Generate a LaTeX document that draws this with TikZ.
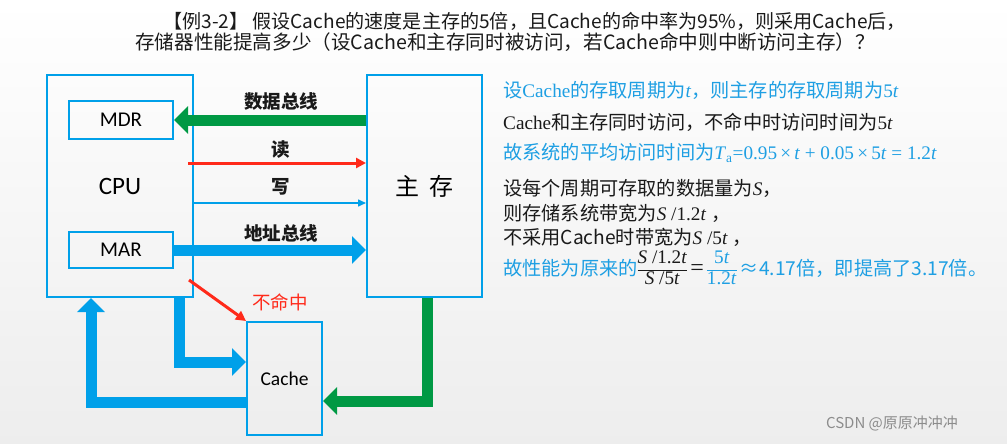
\documentclass[tikz,border=0pt]{standalone}
\usepackage{fontspec}
\setmainfont{Liberation Serif}
\newfontfamily\cjk{Noto Sans CJK SC}
\newfontfamily\carl{Carlito}
\usetikzlibrary{arrows.meta}
\definecolor{cblue}{HTML}{00A0E9}
\definecolor{cgreen}{HTML}{009944}
\definecolor{cred}{HTML}{FF2A1A}
\definecolor{tblue}{HTML}{1E9FE3}
\definecolor{tdark}{HTML}{1A1A1A}
\newcommand{\myfr}[2]{$\vcenter{\hbox{\renewcommand\arraystretch{0.95}\begin{tabular}{@{}c@{}}#1\\\hline #2\end{tabular}}}$}
\tikzset{
  box/.style={draw=cblue, line width=2pt, inner sep=0pt},
  fat/.style={line width=11pt, -{Triangle[width=27pt,length=14pt]}},
  thinred/.style={draw=cred, line width=3pt, -{Triangle[width=10pt,length=10pt]}},
  buslabel/.style={font=\cjk\bfseries\fontsize{18.5}{21}\selectfont, text=tdark},
  rtext/.style={anchor=west, inner sep=0pt, font=\fontsize{19.2}{22}\selectfont},
}
\begin{document}
\begin{tikzpicture}[x=1pt,y=-1pt]
\useasboundingbox (0,0) rectangle (1007,444);
\shade[top color=white, bottom color=black!7] (0,0) rectangle (1007,444);

% title
\node[anchor=west, inner sep=0pt, text=tdark, font=\cjk\fontsize{19.1}{22}\selectfont] (t1) at (163,21) {【例3-2】\ 假设Cache的速度是主存的5倍，且Cache的命中率为95\%，则采用Cache后，};
\node[anchor=west, inner sep=0pt, text=tdark, font=\cjk\fontsize{19.6}{22}\selectfont] (t2) at (135,42) {存储器性能提高多少（设Cache和主存同时被访问，若Cache命中则中断访问主存）？};

% boxes
\node[box, minimum width=146pt, minimum height=222pt, font=\carl\fontsize{25}{28}\selectfont] (cpu) at (120,186) {CPU};
\node[box, minimum width=104pt, minimum height=38pt, font=\carl\fontsize{21}{24}\selectfont] (mdr) at (121,120) {MDR};
\node[box, minimum width=104pt, minimum height=36pt, font=\carl\fontsize{21}{24}\selectfont] (mar) at (121,250) {MAR};
\node[box, minimum width=115pt, minimum height=222pt, font=\cjk\fontsize{24}{27}\selectfont] (mem) at (424.5,186) {主\ \ 存};
\node[box, minimum width=75pt, minimum height=113pt, font=\carl\fontsize{19.5}{22}\selectfont] (cache) at (284.5,378.5) {Cache};

% helper coordinates
\coordinate (yrd) at (0,163);
\coordinate (ywr) at (0,203);
\coordinate (rdstart) at (188,163);
\coordinate (missstart) at (189,280);
\coordinate (xa) at (179,0);
\coordinate (ya) at (0,362);
\coordinate (xb) at (91,0);
\coordinate (yb) at (0,402);
\coordinate (xg) at (427,0);
\coordinate (yg) at (0,401);

% connectors
\draw[fat, cgreen] (mdr.east -| mem.west) -- (mdr.east);
\draw[thinred] (rdstart) -- (mem.west |- yrd);
\draw[cblue, line width=1.5pt, -{Triangle[width=7pt,length=8pt]}] (cpu.east |- ywr) -- (mem.west |- ywr);
\draw[fat, cblue] (mar.east) -- (mar.east -| mem.west);
\draw[thinred] (missstart) -- (cache.north west);
\draw[fat, cblue] (cpu.south -| xa) |- (cache.west |- ya);
\draw[fat, cblue] (cache.west |- yb) -| (cpu.south -| xb);
\draw[fat, cgreen] (mem.south -| xg) |- (cache.east |- yg);

% connector labels
\node[buslabel] (l1) at (281,101) {数据总线};
\node[buslabel] (l2) at (281,150) {读};
\node[buslabel] (l3) at (281,187) {写};
\node[buslabel] (l4) at (281,233) {地址总线};
\node[text=cred, font=\cjk\fontsize{18.5}{21}\selectfont] (l5) at (280,302) {不命中};

% right text
\node[rtext, text=tblue] (r1) at (503,90) {{\cjk 设}Cache{\cjk 的存取周期为}\textit{t}{\cjk ，则主存的存取周期为}5\textit{t}};
\node[rtext, text=tdark] (r2) at (503,122) {Cache{\cjk 和主存同时访问，不命中时访问时间为}5\textit{t}};
\node[rtext, text=tblue] (r3) at (503,153) {{\cjk 故系统的平均访问时间为}\textit{T}\textsubscript{a}=0.95\,×\,\textit{t} + 0.05\,×\,5\textit{t} = 1.2\textit{t}};
\node[rtext, text=tdark] (r4) at (503,188) {{\cjk 设每个周期可存取的数据量为}\textit{S}{\cjk ，}};
\node[rtext, text=tdark] (r5) at (503,213) {{\cjk 则存储系统带宽为}\textit{S} /1.2\textit{t} {\cjk ，}};
\node[rtext, text=tdark] (r6) at (503,237) {{\cjk 不采用Cache时带宽为}\textit{S} /5\textit{t} {\cjk ，}};
\node[rtext, text=tblue] (r7) at (503,270) {{\cjk 故性能为原来的}{\color{tdark}\myfr{\textit{S} /1.2\textit{t}}{\textit{S} /5\textit{t}}}\,{\color{tdark}\fontsize{24}{24}\selectfont =}\,\myfr{5\textit{t}}{1.2\textit{t}}\,{\cjk ≈4.17倍，即提高了3.17倍。}};

% watermark
\node[text=black!45, font=\cjk\fontsize{15}{18}\selectfont] (wm) at (892,424) {CSDN @原原冲冲冲};
\end{tikzpicture}
\end{document}
